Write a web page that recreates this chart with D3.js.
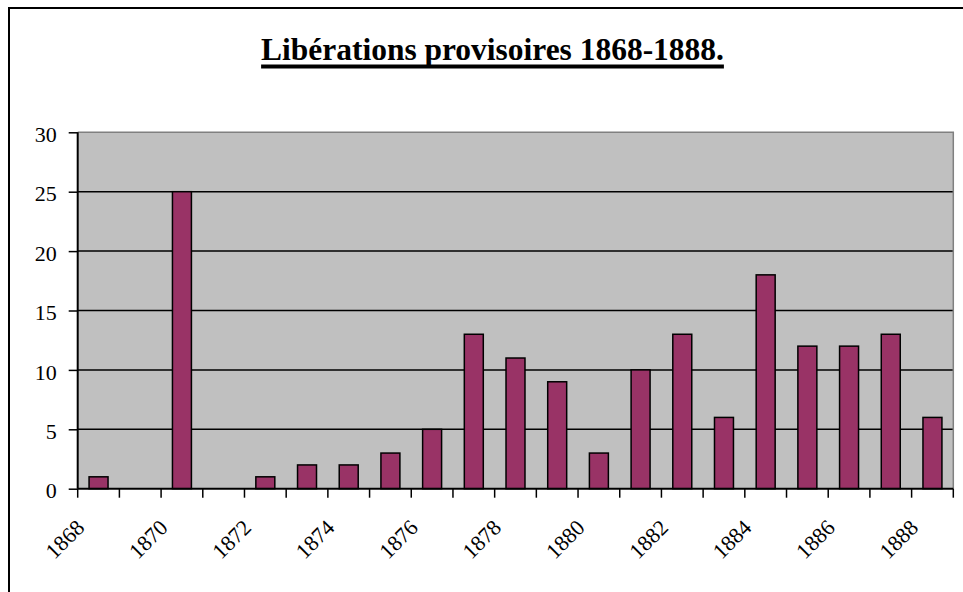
<!DOCTYPE html>
<html><head><meta charset="utf-8">
<script src="https://cdn.jsdelivr.net/npm/d3@7"></script>
<style>
html,body{margin:0;padding:0;background:#fff;}
svg{display:block;}
text{font-family:"Liberation Serif","Tinos","Times New Roman",serif;}
</style>
</head><body>
<svg id="c" width="963" height="592"></svg>
<script>
const title = "Libérations provisoires 1868-1888.";
const years = ["1868","1869","1870","1871","1872","1873","1874","1875","1876","1877","1878","1879","1880","1881","1882","1883","1884","1885","1886","1887","1888"];
const values = [1,0,25,0,1,2,2,3,5,13,11,9,3,10,13,6,18,12,12,13,6];
const tickLabels = ["1868","1870","1872","1874","1876","1878","1880","1882","1884","1886","1888"];
const yTicks = [0,5,10,15,20,25,30];

const svg = d3.select("#c");
const FONT = "Liberation Serif";
const L = 77.7, R = 953.3, T = 132.3, B = 488.7;

// outer frame
svg.append("rect").attr("x",9).attr("y",8).attr("width",967).attr("height",600)
  .attr("fill","#fff").attr("stroke","#000").attr("stroke-width",2);

// title
const tt = svg.append("text").attr("x",492.5).attr("y",59.5)
  .attr("text-anchor","middle").attr("font-family",FONT).attr("font-weight","bold")
  .style("font-size","100px").attr("fill","#000").text(title);
const w100 = tt.node().getComputedTextLength();
const fs = 100*463/w100;
tt.style("font-size",fs+"px");
const tw = tt.node().getComputedTextLength();
svg.append("rect").attr("x",492.5-tw/2).attr("y",64.5).attr("width",tw).attr("height",4).attr("fill","#000");

const x = d3.scaleBand().domain(years).range([L,R]).paddingInner(0.545).paddingOuter(0.2725);
const y = d3.scaleLinear().domain([0,30]).range([B,T]);

// plot area
svg.append("rect").attr("x",L).attr("y",T).attr("width",R-L).attr("height",B-T).attr("fill","#C0C0C0");
// gridlines
svg.append("g").selectAll("line").data(yTicks.filter(d=>d>0&&d<30)).join("line")
  .attr("x1",L).attr("x2",R).attr("y1",d=>y(d)).attr("y2",d=>y(d))
  .attr("stroke","#000").attr("stroke-width",1.5);
// plot border top/right
svg.append("path").attr("d",`M${L},${T}H${R}V${B}`).attr("fill","none").attr("stroke","#808080").attr("stroke-width",1.5);

// bars
svg.append("g").selectAll("rect").data(years.map((d,i)=>({k:d,v:values[i]})).filter(d=>d.v>0)).join("rect")
  .attr("x",d=>x(d.k)).attr("width",x.bandwidth())
  .attr("y",d=>y(d.v)).attr("height",d=>y(0)-y(d.v))
  .attr("fill","#993366").attr("stroke","#000").attr("stroke-width",1.5);

// y axis
const ya = svg.append("g").attr("transform",`translate(${L},0)`)
  .call(d3.axisLeft(y).tickValues(yTicks).tickSize(9).tickPadding(12).tickFormat(d3.format("d")));
ya.attr("font-family",FONT).attr("font-size",null);
ya.select(".domain").attr("stroke","#000").attr("stroke-width",2).attr("d",`M0,${T}V${B}`);
ya.selectAll(".tick line").attr("stroke","#000").attr("stroke-width",1.5);
ya.selectAll(".tick text").attr("font-family",FONT).style("font-size","22px").attr("fill","#000").attr("dy","0.42em");

// x axis ticks at category boundaries
const step = x.step();
const bounds = d3.range(years.length+1);
svg.append("line").attr("x1",L).attr("x2",R).attr("y1",B).attr("y2",B).attr("stroke","#000").attr("stroke-width",2);
svg.append("g").selectAll("line").data(bounds).join("line")
  .attr("x1",i=>L+i*step).attr("x2",i=>L+i*step).attr("y1",B).attr("y2",B+9)
  .attr("stroke","#000").attr("stroke-width",1.5);
svg.append("g").selectAll("text").data(tickLabels).join("text")
  .attr("transform",d=>{const i=years.indexOf(d); return `translate(${L+i*step+8},${529}) rotate(-45)`;})
  .attr("text-anchor","end").attr("font-family",FONT).style("font-size","22px").attr("fill","#000").text(d=>d);
</script>
</body></html>
